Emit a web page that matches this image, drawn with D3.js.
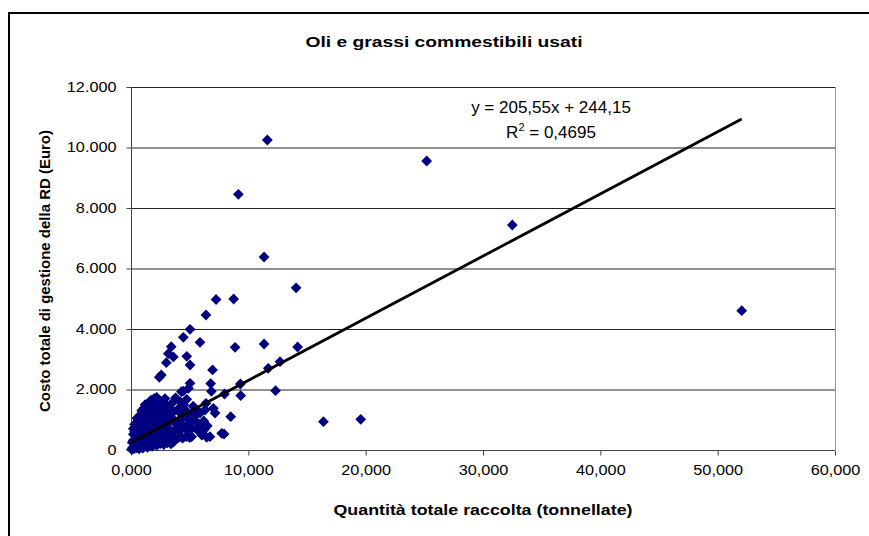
<!DOCTYPE html>
<html><head><meta charset="utf-8">
<script src="https://cdn.jsdelivr.net/npm/d3@7"></script>
<style>body{margin:0;background:#fff}svg{display:block}text{font-family:Arial,"Liberation Sans",sans-serif;fill:#000}</style>
</head><body><svg id="c" width="869" height="536"></svg>
<script>
const chartTitle = "Oli e grassi commestibili usati";
const xTitle = "Quantità totale raccolta (tonnellate)";
const yTitle = "Costo totale di gestione della RD (Euro)";
const xTicks = [0, 10, 20, 30, 40, 50, 60];
const xTickLabels = ["0,000", "10,000", "20,000", "30,000", "40,000", "50,000", "60,000"];
const yTicks = [0, 2000, 4000, 6000, 8000, 10000, 12000];
const yTickLabels = ["0", "2.000", "4.000", "6.000", "8.000", "10.000", "12.000"];
const trendCoeffs = [205.55, 244.15]; // slope, intercept
const trendText = ["y = 205,55x + 244,15", "0,4695"];

// [quantità (t), costo (€)]
const outliers = [
 [11.62,10248],[25.2,9554],[9.15,8453],[32.5,7438],[11.34,6380],[14.07,5360],[52.05,4605],
 [7.25,4975],[8.75,4992],[6.39,4463],[5.03,3990],[4.46,3725],[5.88,3560],[8.87,3394],
 [11.34,3504],[14.2,3405],[3.43,3416],[3.18,3185],[3.61,3075],[4.75,3096],[3.01,2887],
 [5.03,2810],[2.58,2479],[2.41,2403],[6.95,2645],[11.7,2700],[12.7,2920],[5.03,2204],
 [6.79,2195],[9.32,2182],[12.32,1961],[16.4,937],[19.58,1014],[9.35,1800],[7.97,1851],
 [6.85,1940],[4.46,1945],[4.75,1675],[3.8,1725],[2.19,1741],[1.96,1697],[1.34,1454],
 [8.5,1102],[7.93,529],[6.73,441],[6.03,496],[5.17,441],[7.16,1223],[6.39,1543],
 [5.65,1300],[7.02,1378],[6.31,1322],[5.88,1223],[6.45,419],[6.03,606],[7.73,551],
 [4.3,1928],[4.9,2040]
];
const cluster = [
 [0.05,20],[0.1,60],[0.15,30],[0.2,90],[0.3,50],[0.4,120],[0.5,70],[0.6,150],[0.7,40],[0.8,110],
 [0.9,180],[1.0,60],[1.2,140],[1.4,90],[1.6,170],[1.8,120],[2.0,190],[2.2,150],[2.5,210],[2.8,180],
 [3.1,240],[3.4,200],[3.6,260],
 [0.1,250],[0.2,320],[0.3,210],[0.4,380],[0.5,290],[0.6,420],[0.7,260],[0.8,350],[0.9,440],[1.0,300],
 [1.1,400],[1.3,330],[1.5,450],[1.7,310],[1.9,420],[2.1,360],[2.3,440],[2.6,330],[2.9,410],[3.2,380],
 [3.5,430],[3.8,350],[4.1,420],[4.4,390],[4.7,440],[5.0,410],
 [0.2,520],[0.3,600],[0.4,480],[0.5,680],[0.6,560],[0.7,720],[0.8,610],[0.9,500],[1.0,680],[1.2,580],
 [1.3,740],[1.5,620],[1.7,700],[1.9,540],[2.1,660],[2.3,730],[2.5,590],[2.7,680],[3.0,620],[3.2,720],
 [3.5,560],[3.8,680],[4.1,600],[4.4,730],[4.8,650],[5.2,720],[5.6,680],[6.0,740],[6.3,700],
 [0.4,780],[0.5,880],[0.6,820],[0.7,950],[0.8,860],[0.9,1000],[1.0,780],[1.1,920],[1.2,1050],[1.3,840],
 [1.4,980],[1.6,900],[1.8,1060],[2.0,820],[2.2,950],[2.4,1080],[2.6,880],[2.8,1000],[3.0,800],[3.2,940],
 [3.5,1050],[3.8,870],[4.1,980],[4.4,820],[4.7,1070],[5.0,900],[5.4,1000],[5.8,850],[6.2,960],[6.5,800],
 [0.8,1150],[1.0,1250],[1.1,1380],[1.2,1180],[1.4,1320],[1.5,1420],[1.6,1200],[1.8,1350],[2.0,1150],
 [2.2,1300],[2.4,1420],[2.6,1200],[2.9,1350],[3.1,1150],[3.3,1400],[3.6,1250],[4.0,1350],[4.3,1180],
 [4.7,1300],[5.1,1150],[2.7,1600],[1.6,1550],
 [1.2,1500],[2.0,1500],[2.4,1560],[3.0,1480],[3.5,1550],[0.5,1050],[0.3,850],[0.2,700],[4.5,1500],
 [5.3,1450],[1.7,1650],[2.9,1700],[0.9,1300],[4.2,1600],[5.5,1150]
];
const points = outliers.concat(cluster);

const m = {left: 131, right: 835, top: 87, bottom: 450};
const svg = d3.select("#c");
const FONT = "Arial, 'Liberation Sans', sans-serif";

// outer chart border
svg.append("rect").attr("x", 9).attr("y", 13).attr("width", 900).attr("height", 600)
  .attr("fill", "#fff").attr("stroke", "#000").attr("stroke-width", 2);

const x = d3.scaleLinear().domain([0, 60]).range([m.left, m.right]);
const y = d3.scaleLinear().domain([0, 12000]).range([m.bottom, m.top]);

// gridlines
svg.append("g").selectAll("line").data(yTicks.filter(d => d > 0)).join("line")
  .attr("x1", m.left).attr("x2", m.right).attr("y1", d => y(d) + 0.5).attr("y2", d => y(d) + 0.5)
  .attr("stroke", "#222").attr("stroke-width", 1);
// right plot border
svg.append("line").attr("x1", m.right + 0.5).attr("x2", m.right + 0.5).attr("y1", m.top).attr("y2", m.bottom)
  .attr("stroke", "#999").attr("stroke-width", 1);

function stretch(sel, k) {
  sel.each(function() {
    const w = this.getComputedTextLength();
    d3.select(this).attr("textLength", w * k).attr("lengthAdjust", "spacingAndGlyphs");
  });
}

// axes
const yAxis = d3.axisLeft(y).tickValues(yTicks).tickSize(5).tickPadding(10)
  .tickFormat((d, i) => yTickLabels[i]);
const gy = svg.append("g").attr("transform", `translate(${m.left + 0.5},0)`).call(yAxis);
const xAxis = d3.axisBottom(x).tickValues(xTicks).tickSize(5).tickPadding(10)
  .tickFormat((d, i) => xTickLabels[i]);
const gx = svg.append("g").attr("transform", `translate(0,${m.bottom + 0.5})`).call(xAxis);
[gx, gy].forEach(g => {
  g.select(".domain").attr("stroke", "#444");
  g.selectAll(".tick line").attr("stroke", "#444");
  g.selectAll("text").attr("font-size", 14).attr("font-family", FONT).attr("fill", "#000");
  stretch(g.selectAll("text"), 1.16);
});
gy.select(".domain").attr("d", `M0,${m.top}V${m.bottom}`);
gx.select(".domain").attr("d", `M${m.left},0H${m.right}`);

// points (diamonds)
svg.append("g").selectAll("path").data(points).join("path")
  .attr("d", d3.symbol().type(d3.symbolSquare).size(58)())
  .attr("transform", d => `translate(${x(d[0])},${y(d[1])}) rotate(45)`)
  .attr("fill", "#000080");

// trendline
const xr = d3.extent(points, d => d[0]);
svg.append("line")
  .attr("x1", x(xr[0])).attr("y1", y(trendCoeffs[0] * xr[0] + trendCoeffs[1]))
  .attr("x2", x(xr[1])).attr("y2", y(trendCoeffs[0] * xr[1] + trendCoeffs[1]))
  .attr("stroke", "#000").attr("stroke-width", 2.8);

// equation
svg.append("text").attr("x", 551).attr("y", 113).attr("text-anchor", "middle").attr("font-size", 17)
  .text(trendText[0]);
const r2 = svg.append("text").attr("x", 551).attr("y", 138).attr("text-anchor", "middle").attr("font-size", 17);
r2.append("tspan").text("R");
r2.append("tspan").attr("font-size", 11).attr("dy", -7).text("2");
r2.append("tspan").attr("dy", 7).text(" = " + trendText[1]);

// titles
svg.append("text").attr("x", 444).attr("y", 47).attr("text-anchor", "middle").attr("font-size", 15)
  .attr("font-weight", "bold").attr("textLength", 277).attr("lengthAdjust", "spacingAndGlyphs").text(chartTitle);
svg.append("text").attr("x", 483).attr("y", 515).attr("text-anchor", "middle").attr("font-size", 15)
  .attr("font-weight", "bold").attr("textLength", 299).attr("lengthAdjust", "spacingAndGlyphs").text(xTitle);
svg.append("text").attr("transform", "translate(50,271) rotate(-90)").attr("text-anchor", "middle")
  .attr("font-size", 15).attr("font-weight", "bold").attr("textLength", 282).attr("lengthAdjust", "spacingAndGlyphs").text(yTitle);
</script></body></html>
